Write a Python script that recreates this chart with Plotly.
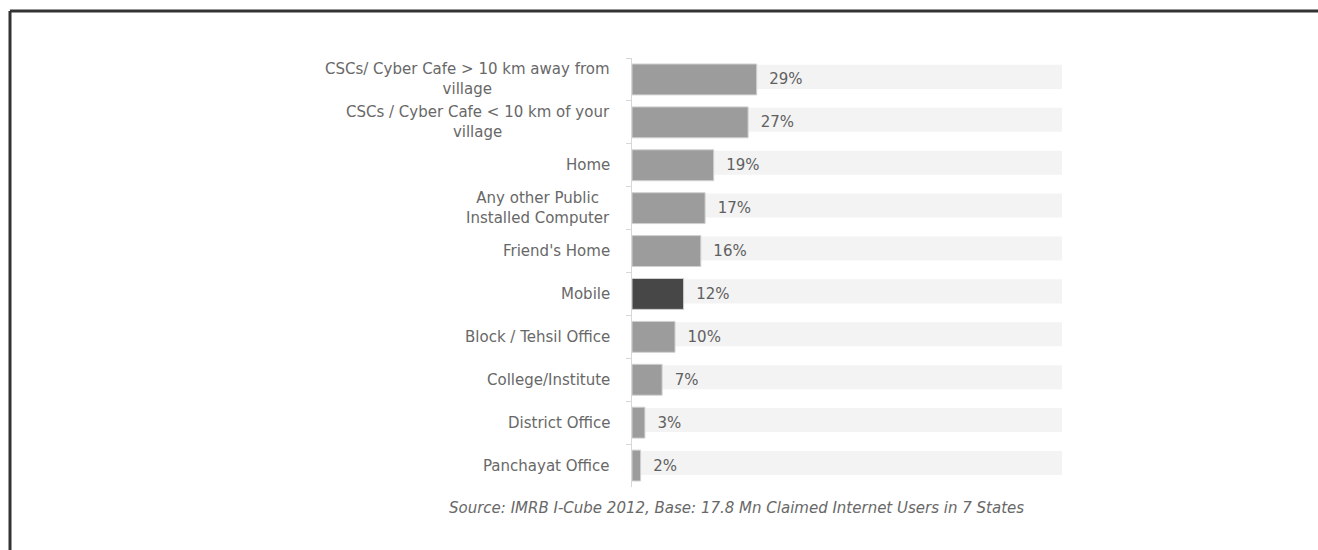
import plotly.graph_objects as go

categories = [
    "CSCs/ Cyber Cafe > 10 km away from<br>village",
    "CSCs / Cyber Cafe < 10 km of your<br>village",
    "Home",
    "Any other Public<br>Installed Computer",
    "Friend's Home",
    "Mobile",
    "Block / Tehsil Office",
    "College/Institute",
    "District Office",
    "Panchayat Office",
]
values = [29, 27, 19, 17, 16, 12, 10, 7, 3, 2]
track = [100] * len(categories)
bar_colors = ["#9c9c9c"] * len(categories)
bar_colors[5] = "#474747"
source_text = "Source: IMRB I-Cube 2012, Base: 17.8 Mn Claimed Internet Users in 7 States"

W, H = 1318, 550
L, R, T, B = 632, 256, 58, 63
pw, ph = W - L - R, H - T - B

FONT = "DejaVu Sans"
TXT = "#686868"

fig = go.Figure()
fig.add_trace(go.Bar(
    y=categories, x=track, orientation="h",
    marker=dict(color="#f3f3f3", line=dict(width=0)),
    width=0.56, offset=-0.34, hoverinfo="skip", showlegend=False,
))
fig.add_trace(go.Bar(
    y=categories, x=values, orientation="h",
    marker=dict(color=bar_colors, line=dict(color="#d0d0d0", width=1)),
    width=0.72,
    text=["  %d%%" % v for v in values], textposition="outside",
    textfont=dict(family=FONT, size=15, color="#606060"),
    cliponaxis=False, showlegend=False,
))

def px_to_paper(px, py):
    return (px - L) / pw, (H - B - py) / ph

x0, y0 = px_to_paper(10, 11)
x1, _ = px_to_paper(W + 5, 11)
_, y1 = px_to_paper(10, H + 5)

annotations = []
for cat in categories:
    annotations.append(dict(
        text=cat, xref="paper", yref="y", x=px_to_paper(612, 0)[0], y=cat,
        xanchor="right", yanchor="middle", align="center", showarrow=False,
        font=dict(family=FONT, size=15, color=TXT),
    ))
sx, sy = px_to_paper(736, 508)
annotations.append(dict(
    text="<i>" + source_text + "</i>", xref="paper", yref="paper",
    x=sx, y=sy, xanchor="center", yanchor="middle", showarrow=False,
    font=dict(family=FONT, size=15, color=TXT),
))

fig.update_layout(
    width=W, height=H,
    margin=dict(l=L, r=R, t=T, b=B),
    barmode="overlay",
    plot_bgcolor="white", paper_bgcolor="white",
    font=dict(family=FONT, size=15, color=TXT),
    xaxis=dict(range=[0, 100], visible=False, fixedrange=True),
    yaxis=dict(
        autorange="reversed", showline=True, linecolor="#d8d8d8", linewidth=1,
        ticks="outside", tickson="boundaries", ticklen=5, tickcolor="#d8d8d8",
        showticklabels=False, showgrid=False, zeroline=False,
    ),
    shapes=[
        dict(type="line", xref="paper", yref="paper", x0=x0, y0=y0, x1=x1, y1=y0,
             line=dict(color="#333333", width=3)),
        dict(type="line", xref="paper", yref="paper", x0=x0, y0=y0, x1=x0, y1=y1,
             line=dict(color="#333333", width=3)),
    ],
    annotations=annotations,
)

fig.write_html("out.html")
